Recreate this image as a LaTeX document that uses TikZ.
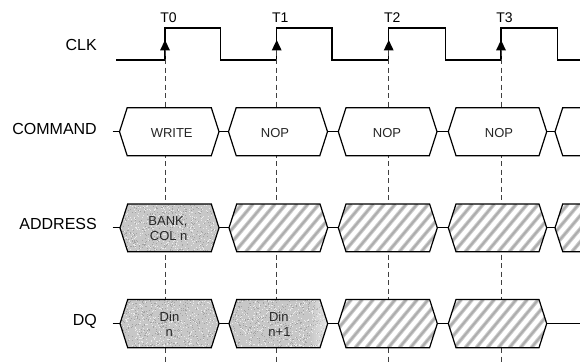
\documentclass[tikz,border=0pt]{standalone}
\usepackage{fontspec}
\setmainfont{Liberation Sans}
\tikzset{
  sig/.style={line width=1.2pt, line join=miter, black},
  lbl/.style={anchor=base east, font=\fontsize{16}{18}\selectfont, inner sep=0pt},
  tlbl/.style={anchor=base, font=\fontsize{14}{15}\selectfont, inner sep=0pt},
  txt/.style={anchor=base, font=\fontsize{13}{15}\selectfont, inner sep=0pt, text=black!85},
  guide/.style={line width=1pt, dash pattern=on 5pt off 3.5pt, black!75},
  stripe/.style={line width=3.8pt, black!20},
  stripecore/.style={line width=1.8pt, black!32},
  dotdark/.style={fill=black!36},
  dotlight/.style={fill=black!8},
  fadestep/.style={fill=white, opacity=0.09},
}
% hexagon outline: left point, right point, top, bottom, options
\newcommand\hexshape[5]{%
  \draw[sig,#5] ({#1},{(#3+#4)/2}) -- ({#1+7.7},#3) -- ({#2-7.7},#3) -- ({#2},{(#3+#4)/2}) -- ({#2-7.7},#4) -- ({#1+7.7},#4) -- cycle;}
\newcommand\hatchshape[4]{%
  \begin{scope}
    \clip ({#1},{(#3+#4)/2}) -- ({#1+7.7},#3) -- ({#2-7.7},#3) -- ({#2},{(#3+#4)/2}) -- ({#2-7.7},#4) -- ({#1+7.7},#4) -- cycle;
    \fill[white] ({#1},#3) rectangle ({#2},#4);
    \foreach \sx in {-60,-49,...,120} {
      \draw[stripe] ({#1+\sx},#4) -- ({#1+\sx+40},#3);
      \draw[stripecore] ({#1+\sx},#4) -- ({#1+\sx+40},#3);
    }
  \end{scope}
  \hexshape{#1}{#2}{#3}{#4}{}}
% speckled grey fill inside the hexagon
\newcommand\speckshape[4]{%
  \begin{scope}
    \clip ({#1},{(#3+#4)/2}) -- ({#1+7.7},#3) -- ({#2-7.7},#3) -- ({#2},{(#3+#4)/2}) -- ({#2-7.7},#4) -- ({#1+7.7},#4) -- cycle;
    \fill[black!22] ({#1},#3) rectangle ({#2},#4);
    \foreach \k in {1,...,420} {
      \pgfmathsetmacro\rx{#1+rnd*(#2-#1)}
      \pgfmathsetmacro\ry{#3+rnd*(#4-#3)}
      \fill[dotdark] (\rx,\ry) rectangle ++(1,1);
      \pgfmathsetmacro\rx{#1+rnd*(#2-#1)}
      \pgfmathsetmacro\ry{#3+rnd*(#4-#3)}
      \fill[dotlight] (\rx,\ry) rectangle ++(1,1);
    }
  \end{scope}}
\begin{document}
\begin{tikzpicture}[x=1pt, y=-1pt]
\pgfmathsetseed{7}
\clip (0,0) rectangle (580,361);
\fill[white] (0,0) rectangle (580,361);

% signal names
\node[lbl] (lclk) at (97,50) {CLK};
\node[lbl] (lcmd) at (97,134) {COMMAND};
\node[lbl] (ladr) at (97,229.3) {ADDRESS};
\node[lbl] (ldq)  at (97,325) {DQ};

% clock
\draw[sig] (116,60) -- (165,60) -- (165,28) -- (220.7,28) -- (220.7,60)
  -- (276.7,60) -- (276.7,28) -- (332,28) -- (332,60)
  -- (388.7,60) -- (388.7,28) -- (445.3,28) -- (445.3,60)
  -- (501,60) -- (501,28) -- (557.3,28) -- (557.3,60) -- (585,60);

% edge markers, labels and guides
\foreach \ex in {165, 276.7, 388.7, 501} {
  \fill[black] (\ex,40) -- (\ex-5,50.5) -- (\ex+5,50.5) -- cycle;
  \draw[guide] (\ex,50.5) -- (\ex,365);
}
\node[tlbl] (t0) at (168.5,22.7) {T0};
\node[tlbl] (t1) at (280.2,22.7) {T1};
\node[tlbl] (t2) at (392.3,22.7) {T2};
\node[tlbl] (t3) at (504.5,22.7) {T3};

% ---------- COMMAND row ----------
\draw[sig] (112.7,131.7) -- (119.5,131.7);
\draw[sig] (219,131.7) -- (228.5,131.7);
\draw[sig] (327.5,131.7) -- (338.3,131.7);
\draw[sig] (437,131.7) -- (448.3,131.7);
\draw[sig] (546.7,131.7) -- (555,131.7);
\hexshape{119.5}{219}{107.7}{155.7}{fill=white}
\hexshape{228.5}{327.5}{107.7}{155.7}{fill=white}
\hexshape{338.3}{437}{107.7}{155.7}{fill=white}
\hexshape{448.3}{546.7}{107.7}{155.7}{fill=white}
\hexshape{555}{660}{107.7}{155.7}{fill=white}
\node[txt] (cw)  at (171.7,137.7) {WRITE};
\node[txt] (cn1) at (275,137.7) {NOP};
\node[txt] (cn2) at (387,137.7) {NOP};
\node[txt] (cn3) at (499,137.7) {NOP};

% ---------- ADDRESS row ----------
\draw[sig] (112.7,227.8) -- (120,227.8);
\draw[sig] (219,227.8) -- (229,227.8);
\draw[sig] (327.7,227.8) -- (338.3,227.8);
\draw[sig] (437.3,227.8) -- (448.3,227.8);
\draw[sig] (546.7,227.8) -- (555,227.8);
\speckshape{120}{219}{204}{251.7}
\hexshape{120}{219}{204}{251.7}{}
\hatchshape{229}{327.7}{204}{251.7}
\hatchshape{338.3}{437.3}{204}{251.7}
\hatchshape{448.3}{546.7}{204}{251.7}
\hatchshape{555}{660}{204}{251.7}
\node[txt] (a1) at (168,225) {BANK,};
\node[txt] (a2) at (168.7,240) {COL n};

% ---------- DQ row ----------
\draw[sig] (112.7,323.6) -- (120,323.6);
\draw[sig] (219,323.6) -- (229,323.6);
\draw[sig] (327.7,323.6) -- (338.3,323.6);
\draw[sig] (437.3,323.6) -- (448.3,323.6);
\draw[sig] (546.7,323.6) -- (585,323.6);
\speckshape{120}{219}{299.5}{347.7}
\hexshape{120}{219}{299.5}{347.7}{}
\speckshape{229}{327.7}{299.5}{347.7}
\begin{scope}
  \clip (229,323.6) -- (236.7,299.5) -- (320,299.5) -- (327.7,323.6) -- (320,347.7) -- (236.7,347.7) -- cycle;
  \foreach \fx in {312,314,...,326} {
    \fill[fadestep] (\fx,299) rectangle (329,348);
  }
\end{scope}
\hexshape{229}{327.7}{299.5}{347.7}{}
\hatchshape{338.3}{437.3}{299.5}{347.7}
\hatchshape{448.3}{546.7}{299.5}{347.7}
\node[txt] (d1) at (169.5,321) {Din};
\node[txt] (d2) at (169.2,336.5) {n};
\node[txt] (d3) at (278.8,321) {Din};
\node[txt] (d4) at (279.5,336.5) {n+1};
\end{tikzpicture}
\end{document}
